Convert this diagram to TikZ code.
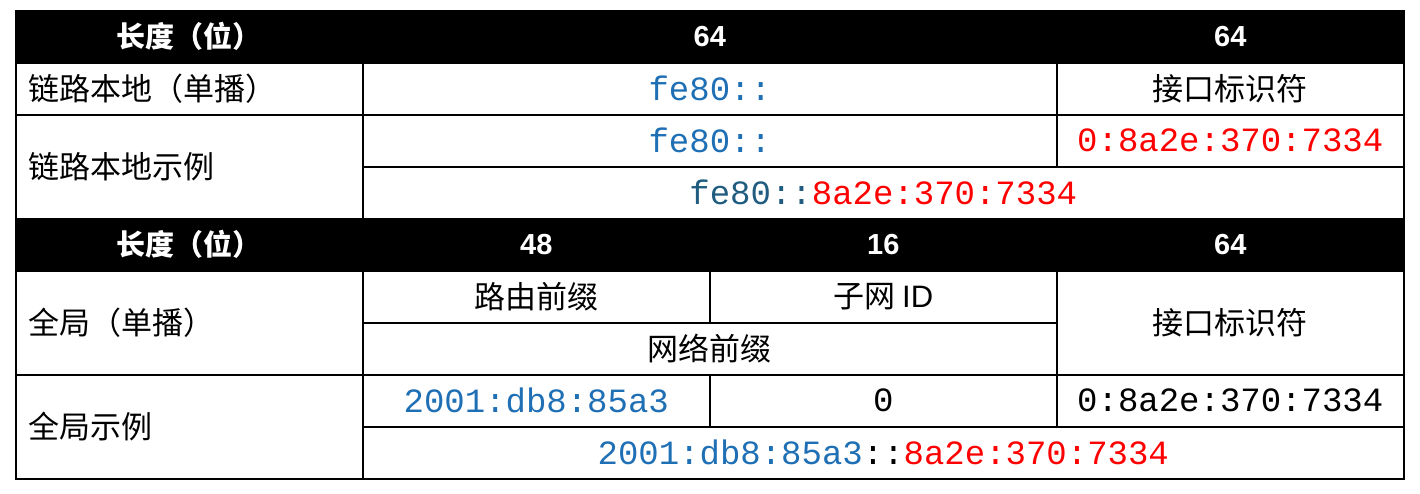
\documentclass[tikz,border=0pt]{standalone}
\usepackage{fontspec}
\setmainfont{Liberation Sans}
\setmonofont{Liberation Mono}
\newfontfamily\cjk{Noto Sans CJK SC}
\definecolor{bl}{HTML}{1F6FB5}
\definecolor{tl}{HTML}{1F5C7F}
\definecolor{rd}{HTML}{FF0000}
\begin{document}
\begin{tikzpicture}[x=1pt,y=-1pt,
  cell/.style={draw=black,line width=1.5pt,inner sep=0pt,anchor=north west,font=\fontsize{31}{31}\selectfont},
  lcell/.style={cell,align=left,text width=321pt},
  hd/.style={cell,fill=black,text=white,font=\fontsize{29}{29}\selectfont\bfseries},
  mono/.style={font=\fontsize{34}{34}\selectfont\ttfamily}]
\useasboundingbox (0,0) rectangle (1420,493);
% header 1
\node[hd,minimum width=347pt,minimum height=52pt] (h1a) at (15,10) {\cjk\bfseries 长度（位）};
\node[hd,minimum width=694pt,minimum height=52pt] (h1b) at (362,10) {64};
\node[hd,minimum width=347pt,minimum height=52pt] (h1c) at (1056,10) {64};
% row ll
\node[lcell,minimum width=347pt,minimum height=52pt] (r1a) at (15,62) {\cjk 链路本地（单播）};
\node[cell,mono,text=bl,minimum width=694pt,minimum height=52pt] (r1b) at (362,62) {fe80::};
\node[cell,minimum width=347pt,minimum height=52pt] (r1c) at (1056,62) {\cjk 接口标识符};
% ll example
\node[lcell,minimum width=347pt,minimum height=104pt] (r2a) at (15,114) {\cjk 链路本地示例};
\node[cell,mono,text=bl,minimum width=694pt,minimum height=52pt] (r2b) at (362,114) {fe80::};
\node[cell,mono,text=rd,minimum width=347pt,minimum height=52pt] (r2c) at (1056,114) {0:8a2e:370:7334};
\node[cell,mono,minimum width=1041pt,minimum height=52pt] (r3) at (362,166) {\textcolor{tl}{fe80::}\textcolor{rd}{8a2e:370:7334}};
% header 2
\node[hd,minimum width=347pt,minimum height=52pt] (h2a) at (15,218) {\cjk\bfseries 长度（位）};
\node[hd,minimum width=347pt,minimum height=52pt] (h2b) at (362,218) {48};
\node[hd,minimum width=347pt,minimum height=52pt] (h2c) at (709,218) {16};
\node[hd,minimum width=347pt,minimum height=52pt] (h2d) at (1056,218) {64};
% global
\node[lcell,minimum width=347pt,minimum height=104pt] (g1a) at (15,270) {\cjk 全局（单播）};
\node[cell,minimum width=347pt,minimum height=52pt] (g1b) at (362,270) {\cjk 路由前缀};
\node[cell,minimum width=347pt,minimum height=52pt] (g1c) at (709,270) {\cjk 子网 \rmfamily ID};
\node[cell,minimum width=347pt,minimum height=104pt] (g1d) at (1056,270) {\cjk 接口标识符};
\node[cell,minimum width=694pt,minimum height=52pt] (g2) at (362,322) {\cjk 网络前缀};
% global example
\node[lcell,minimum width=347pt,minimum height=104pt] (g3a) at (15,374) {\cjk 全局示例};
\node[cell,mono,text=bl,minimum width=347pt,minimum height=52pt] (g3b) at (362,374) {2001:db8:85a3};
\node[cell,mono,minimum width=347pt,minimum height=52pt] (g3c) at (709,374) {0};
\node[cell,mono,minimum width=347pt,minimum height=52pt] (g3d) at (1056,374) {0:8a2e:370:7334};
\node[cell,mono,minimum width=1041pt,minimum height=52pt] (g4) at (362,426) {\textcolor{bl}{2001:db8:85a3}::\textcolor{rd}{8a2e:370:7334}};
\end{tikzpicture}
\end{document}
